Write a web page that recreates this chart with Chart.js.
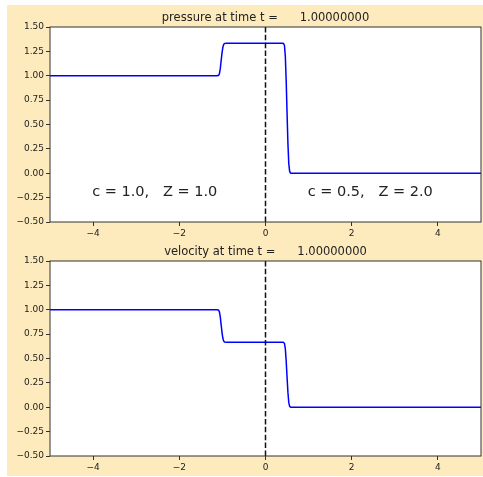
<!DOCTYPE html>
<html>
<head>
<meta charset="utf-8">
<script src="https://cdn.jsdelivr.net/npm/chart.js@4"></script>
<style>
  body { margin: 0; background: #fff; }
  #fig { position: absolute; left: 7px; top: 5px; width: 476px; height: 471px; background: #fdebbd; }
  #c1 { position: absolute; left: 0; top: 0; }
  #c2 { position: absolute; left: 0; top: 240px; }
</style>
</head>
<body>
<div id="fig">
  <canvas id="c1" width="476" height="240"></canvas>
  <canvas id="c2" width="476" height="231"></canvas>
</div>
<script>
// x positions where the solution was sampled
const xs = [-5, -1.12, -1.09, -1.07, -1.05, -1.03, -1.01, -0.99, -0.97, -0.95, -0.92,
            0.40, 0.42, 0.44, 0.46, 0.48, 0.50, 0.52, 0.54, 0.56, 0.58, 5];
// pressure and velocity
const pressure = [1, 1, 1.003, 1.02, 1.07, 1.15, 1.23, 1.29, 1.322, 1.331, 1.333,
                  1.333, 1.33, 1.31, 1.2, 0.95, 0.62, 0.31, 0.1, 0.02, 0, 0];
const velocity = [1, 1, 0.997, 0.98, 0.93, 0.85, 0.77, 0.71, 0.678, 0.669, 0.667,
                  0.667, 0.665, 0.655, 0.6, 0.475, 0.31, 0.155, 0.05, 0.01, 0, 0];
// interface at x = 0
const interfaceX = [0, 0];
const interfaceY = [-0.5, 1.5];

const xTicks = [-4, -2, 0, 2, 4];
const xRange = [-5, 5];
const yRange = [-0.5, 1.5];
const yStep = 0.25;

const tTime = '1.00000000';
const titles = ['pressure at time t =      ' + tTime, 'velocity at time t =      ' + tTime];
const notes = ['c = 1.0,   Z = 1.0', 'c = 0.5,   Z = 2.0'];
const noteX = [-2.57, 2.43];
const noteY = -0.19;

const FONT = '"DejaVu Sans", sans-serif';
const TXT = '#222';

// matplotlib style minus sign
const fmt = (v, d) => {
  const s = Math.abs(v).toFixed(d);
  return (v < -1e-9 ? '\u2212' : '') + s;
};

const framePlugin = {
  id: 'frame',
  beforeDraw(chart) {
    const a = chart.chartArea, ctx = chart.ctx;
    ctx.save();
    ctx.fillStyle = '#fff';
    ctx.fillRect(a.left, a.top, a.right - a.left, a.bottom - a.top);
    ctx.restore();
  },
  afterDraw(chart, args, opts) {
    const a = chart.chartArea, ctx = chart.ctx;
    ctx.save();
    ctx.strokeStyle = '#333';
    ctx.lineWidth = 1;
    ctx.strokeRect(a.left, a.top, a.right - a.left, a.bottom - a.top);
    // title
    ctx.fillStyle = TXT;
    ctx.font = '11.5px ' + FONT;
    ctx.textAlign = 'center';
    ctx.textBaseline = 'middle';
    ctx.fillText(opts.title, (a.left + a.right) / 2, a.top - 9);
    // notes
    if (opts.notes) {
      ctx.font = '14.5px ' + FONT;
      const sx = chart.scales.x, sy = chart.scales.y;
      opts.notes.forEach((t, i) => {
        ctx.fillText(t, sx.getPixelForValue(noteX[i]), sy.getPixelForValue(noteY));
      });
    }
    ctx.restore();
  }
};

function makeChart(id, values, title, withNotes, padTop, xHeight) {
  return new Chart(document.getElementById(id), {
    type: 'scatter',
    data: {
      datasets: [
        {
          data: interfaceX.map((x, i) => ({x: x, y: interfaceY[i]})),
          showLine: true,
          borderColor: '#111',
          borderWidth: 1.5,
          borderDash: [5.5, 2.4],
          pointRadius: 0,
          order: 0
        },
        {
          data: xs.map((x, i) => ({x: x, y: values[i]})),
          showLine: true,
          borderColor: '#0000ff',
          borderWidth: 1.5,
          borderJoinStyle: 'round',
          pointRadius: 0,
          tension: 0.0001, // avoids the fast path spikes on steep ramps
          order: 1
        }
      ]
    },
    options: {
      responsive: false,
      animation: false,
      layout: { padding: { top: padTop, right: 2, left: 0, bottom: 0 } },
      plugins: {
        legend: { display: false },
        tooltip: { enabled: false },
        frame: { title: title, notes: withNotes ? notes : null }
      },
      scales: {
        x: {
          type: 'linear',
          min: xRange[0], max: xRange[1],
          afterBuildTicks: s => { s.ticks = xTicks.map(v => ({value: v})); },
          afterFit: s => { s.height = xHeight; },
          border: { display: false },
          grid: { drawOnChartArea: false, drawTicks: true, tickLength: 4, color: '#333' },
          ticks: { callback: v => fmt(v, 0), color: TXT, font: { family: FONT, size: 9 }, padding: 2, maxRotation: 0 }
        },
        y: {
          min: yRange[0], max: yRange[1],
          afterFit: s => { s.width = 43; },
          border: { display: false },
          grid: { drawOnChartArea: false, drawTicks: true, tickLength: 4, color: '#333' },
          ticks: { stepSize: yStep, callback: v => fmt(v, 2), color: TXT, font: { family: FONT, size: 9 }, padding: 2 }
        }
      }
    },
    plugins: [framePlugin]
  });
}

makeChart('c1', pressure, titles[0], true, 22, 23);
makeChart('c2', velocity, titles[1], false, 16, 20);
</script>
</body>
</html>
